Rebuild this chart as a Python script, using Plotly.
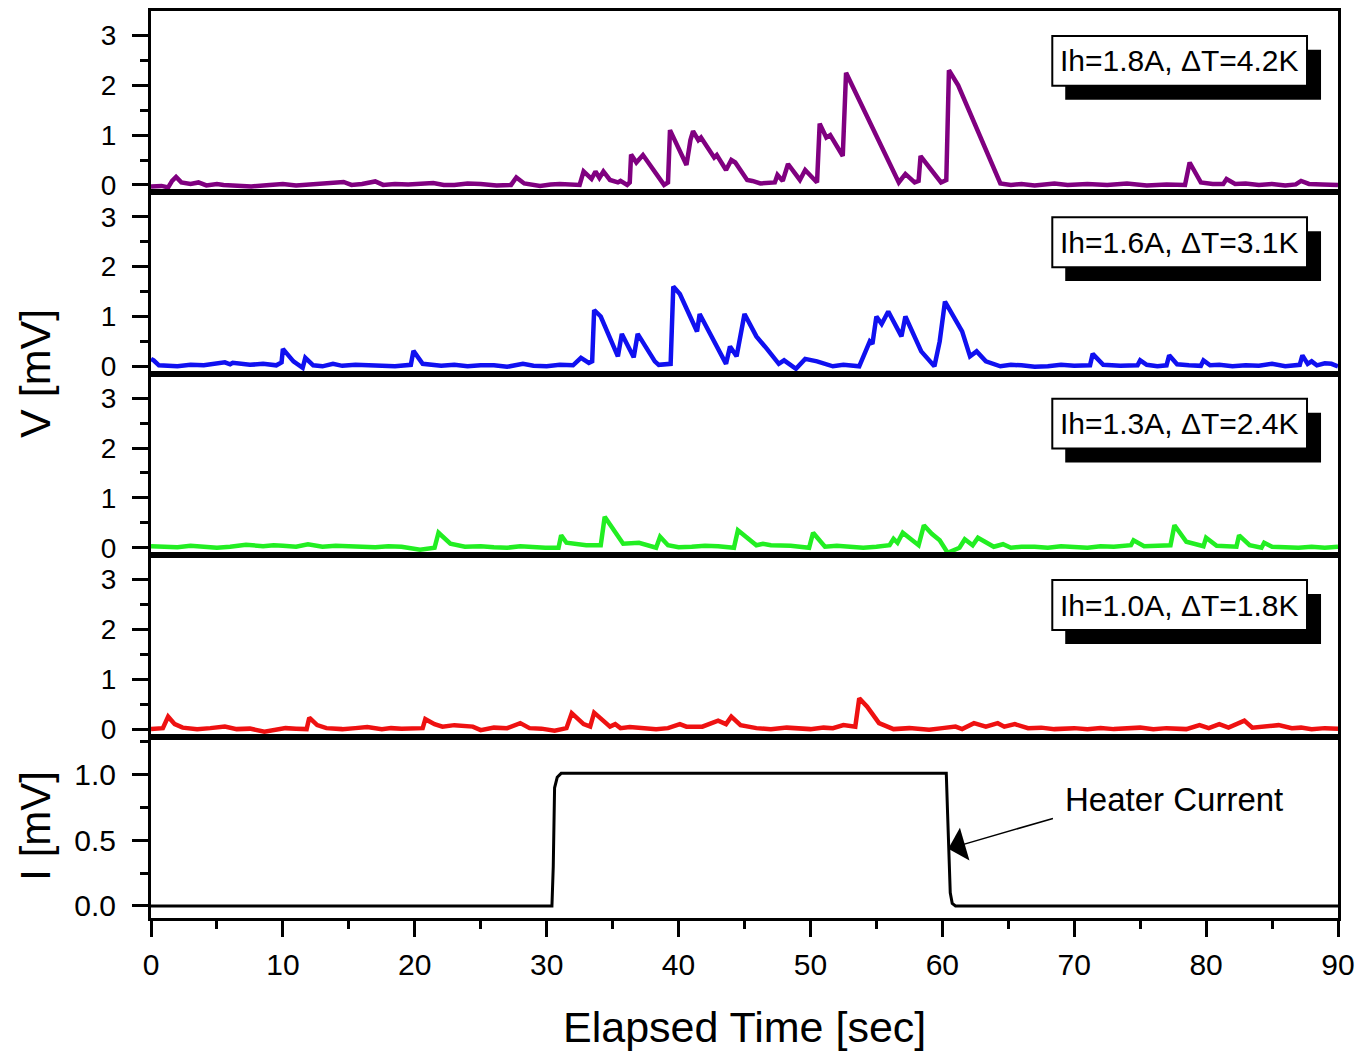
import plotly.graph_objects as go
from plotly.subplots import make_subplots

# ---------------- data ----------------
labels = ["Ih=1.8A, \u0394T=4.2K", "Ih=1.6A, \u0394T=3.1K", "Ih=1.3A, \u0394T=2.4K", "Ih=1.0A, \u0394T=1.8K"]

t_18 = [0, 0.8, 1.3, 1.6, 1.9, 2.3, 3.0, 3.6, 4.2, 5.0, 5.5, 6.5, 7.6, 9.0, 10.0, 11.0, 12.0, 13.0, 14.6, 15.2,
        16.0, 17.0, 17.6, 18.5, 19.5, 21.4, 22.2, 23.0, 24.0, 25.0, 26.2, 27.3, 27.7, 28.3, 29.0, 29.5, 30.3,
        31.0, 32.5, 32.8, 33.4, 33.7, 34.0, 34.3, 34.8,
        35.4, 35.6, 36.1, 36.3, 36.4, 36.8, 37.3, 38.9, 39.2, 39.35, 40.6, 40.9, 41.1, 41.5, 41.7, 42.7,
        42.9, 43.6, 44.0, 44.3, 45.2, 45.6, 46.2, 47.3, 47.5, 47.9, 48.3, 49.2, 49.6, 50.5, 50.7, 51.2,
        51.5, 52.45, 52.7, 56.7, 57.2, 57.9, 58.2, 58.35, 59.9, 60.3, 60.5, 61.2, 64.4, 65.2, 66.0, 67.0,
        68.5, 69.5, 71.0, 72.5, 74.0, 75.5, 77.0, 78.4, 78.75, 79.6, 80.5, 81.3, 81.55, 82.2, 83.0, 84.0,
        85.0, 86.0, 86.8, 87.2, 87.8, 88.8, 90.0]
v_18 = [-0.03, -0.02, -0.05, 0.08, 0.16, 0.05, 0.02, 0.05, -0.01, 0.02, 0.0, -0.02, -0.03, 0.0, 0.02, -0.01, 0.01, 0.01, 0.06, 0.0,
        0.02, 0.07, 0.0, 0.02, 0.01, 0.04, 0.0, 0.0, 0.03, 0.02, -0.01, 0.0, 0.15, 0.03, 0.01, -0.02, 0.01,
        0.02, 0.0, 0.27, 0.12, 0.27, 0.14, 0.27, 0.1,
        0.05, 0.08, 0.0, 0.05, 0.61, 0.45, 0.6, 0.0, 0.05, 1.1, 0.4, 0.9, 1.08, 0.9, 0.95, 0.55,
        0.6, 0.3, 0.5, 0.45, 0.1, 0.08, 0.03, 0.05, 0.2, 0.08, 0.42, 0.1, 0.3, 0.05, 1.23, 0.95,
        1.0, 0.58, 2.25, 0.05, 0.22, 0.05, 0.08, 0.58, 0.05, 0.1, 2.3, 2.0, 0.03, 0.0, 0.02, -0.01,
        0.03, 0.0, 0.02, 0.0, 0.03, -0.01, 0.01, 0.0, 0.45, 0.05, 0.02, 0.02, 0.12, 0.02, 0.03, 0.0,
        0.02, -0.01, 0.01, 0.08, 0.02, 0.01, 0.0]

t_16 = [0, 0.2, 0.6, 2.0, 3.0, 4.0, 5.6, 6.0, 6.2, 7.5, 8.5, 9.5, 9.9, 10.0, 10.8, 11.5, 11.7, 12.3, 13.0, 13.8,
        14.5, 15.5, 16.5, 17.5, 18.5, 19.7, 19.9, 20.6, 22.0, 23.0, 24.0, 25.0, 26.0, 27.0, 28.2, 29.0, 30.0, 31.0,
        32.0, 32.6, 33.2, 33.45, 33.6,
        34.1, 35.4, 35.7, 36.6, 36.9, 37.4, 38.2, 38.5, 39.4, 39.6, 40.1, 41.4, 41.6, 41.8, 43.6, 43.9,
        44.4, 45.0, 45.9, 46.7, 47.6, 48.0, 48.9, 49.6, 50.5, 51.7, 52.5, 53.7, 54.0, 54.5, 54.7, 55.0, 55.4,
        55.9, 56.9, 57.2, 58.4, 59.4, 59.8, 60.2, 61.5, 62.1, 62.6, 63.3, 64.4, 65.2, 66.0, 67.0, 68.0, 69.0,
        70.0, 71.2, 71.4, 72.2, 73.5, 74.8, 75.0, 75.5, 76.3, 77.0, 77.2, 77.8, 78.7, 79.6, 79.8, 80.3, 81.0,
        82.0, 83.0, 84.0, 85.0, 86.0, 87.1, 87.3, 87.7, 88.0, 88.4, 89.0, 89.5, 90.0]
v_16 = [0.15, 0.12, 0.02, 0.0, 0.03, 0.02, 0.08, 0.04, 0.07, 0.03, 0.05, 0.02, 0.08, 0.35, 0.1, -0.03, 0.17, 0.02, 0.0, 0.05,
        0.01, 0.03, 0.02, 0.0, 0.0, 0.03, 0.31, 0.05, 0.01, 0.03, 0.0, 0.02, 0.02, -0.01, 0.05, 0.01, 0.0, 0.03,
        0.02, 0.17, 0.07, 0.1, 1.13,
        1.0, 0.2, 0.65, 0.18, 0.65, 0.45, 0.1, 0.03, 0.05, 1.6, 1.45, 0.7, 1.05, 0.95, 0.05, 0.4,
        0.2, 1.05, 0.6, 0.35, 0.05, 0.12, -0.05, 0.15, 0.1, 0.0, 0.03, 0.0, 0.2, 0.5, 0.45, 1.0, 0.85,
        1.1, 0.6, 1.0, 0.3, 0.0, 0.5, 1.3, 0.7, 0.2, 0.3, 0.1, 0.0, 0.03, 0.02, -0.01, 0.0, 0.03,
        0.01, 0.02, 0.25, 0.03, 0.01, 0.02, 0.12, 0.03, 0.0, 0.02, 0.22, 0.04, 0.02, 0.01, 0.12, 0.02, 0.03,
        0.0, 0.02, 0.01, 0.05, 0.0, 0.03, 0.22, 0.05, 0.1, 0.02, 0.06, 0.05, 0.0]

t_13 = [0, 1, 2, 3, 4, 5, 6, 7.2, 8.5, 9.3, 10, 11.0, 11.9, 13, 14, 15, 16, 17, 18, 19, 20.4, 21.5, 21.8, 22.7, 23.8,
        25, 26, 27, 28, 29, 29.9,
        30.9, 31.1, 31.5, 33.0, 34.1, 34.4, 35.8, 37.0, 38.3, 38.6, 39.2, 40, 41, 42, 43, 44.2, 44.5, 45.9,
        46.4, 47.0, 48.5, 49.9, 50.2, 51.1, 52, 53, 54, 55, 56.0, 56.3, 56.6, 57.0, 58.2, 58.6, 59.2, 59.8,
        60.4, 61.3, 61.7, 62.3, 62.7, 63.9, 64.6, 65.2, 66, 67, 68, 69, 70, 71, 72, 73, 74.3, 74.5, 75.3, 76.2, 77.3,
        77.6, 78.5, 79.8, 80.0, 80.8, 81.5, 82.3, 82.5, 83.3, 84.2, 84.4, 85.0, 86, 87, 88, 89, 90]
v_13 = [0.03, 0.01, 0.01, 0.04, 0.03, 0.0, 0.02, 0.06, 0.03, 0.05, 0.04, 0.02, 0.07, 0.02, 0.04, 0.03, 0.0, 0.01, 0.03, 0.02,
        -0.04, 0.0, 0.3, 0.08, 0.02, 0.03, 0.01, 0.0, 0.03, 0.01, 0.0,
        0.0, 0.25, 0.1, 0.05, 0.05, 0.62, 0.08, 0.1, 0.0, 0.22, 0.05, 0.01, 0.02, 0.04, 0.03, 0.0, 0.35, 0.05,
        0.08, 0.05, 0.04, 0.0, 0.3, 0.02, 0.04, 0.03, 0.0, 0.02, 0.05, 0.18, 0.1, 0.3, 0.05, 0.45, 0.28, 0.15,
        -0.1, 0.0, 0.17, 0.05, 0.2, 0.02, 0.07, 0.0, 0.02, 0.02, 0.0, 0.03, 0.01, 0.0, 0.03, 0.02, 0.05, 0.15, 0.03, 0.04, 0.05,
        0.45, 0.12, 0.03, 0.2, 0.04, 0.03, 0.02, 0.25, 0.05, 0.0, 0.1, 0.02, 0.01, 0.0, 0.02, 0.0, 0.02]

t_10 = [0, 0.9, 1.3, 1.8, 2.4, 3.5, 4.5, 5.6, 6.5, 7.5, 8.6, 9.5, 10.2, 11.0, 11.8, 12.0, 12.6, 13.3, 14.5, 15.5,
        16.4, 17.5, 18.2, 19.0, 20.6, 20.8, 21.5, 22.1, 23.0, 24.4, 25.0, 26.0, 27.0, 28.0, 28.7, 29.6, 30.6, 31.5, 31.9,
        32.8, 33.3, 33.6, 34.8, 35.2, 35.6, 36.3, 37.0, 38.3, 39.2, 40.1, 40.6, 41.8, 43.0, 43.6, 44.0, 44.7, 45.9,
        47.0, 48.2, 49.0, 50.0, 51.0, 51.7, 52.5, 53.4, 53.7, 54.3, 55.2, 56.3, 57.5, 58.2, 59.0, 60.0, 61.0, 61.5, 62.4, 63.3, 64.2,
        64.7, 65.5, 66.5, 67.5, 68.5, 70, 71, 72, 73, 74, 75, 76, 77, 78.5, 79.5, 80.2, 81.0, 81.7, 82.9, 83.5, 84.5, 85.5, 86.5,
        87.2, 88, 89, 90]
v_10 = [0.0, 0.02, 0.25, 0.1, 0.03, 0.0, 0.02, 0.05, 0.0, 0.01, -0.05, 0.0, 0.02, 0.01, 0.0, 0.23, 0.08, 0.02, 0.0, 0.02,
        0.04, 0.0, 0.02, 0.01, 0.02, 0.2, 0.1, 0.05, 0.08, 0.05, -0.02, 0.03, 0.02, 0.12, 0.02, 0.01, -0.03, 0.02, 0.32,
        0.1, 0.05, 0.33, 0.05, 0.1, 0.02, 0.04, 0.03, 0.0, 0.02, 0.1, 0.05, 0.05, 0.17, 0.1, 0.25, 0.08, 0.02,
        0.0, 0.03, 0.01, 0.0, 0.03, 0.02, 0.08, 0.05, 0.62, 0.45, 0.12, 0.0, 0.02, 0.0, -0.01, 0.02, 0.05, 0.0, 0.12, 0.05, 0.12,
        0.05, 0.1, 0.02, 0.03, 0.0, 0.02, 0.0, 0.02, 0.0, 0.02, 0.03, 0.0, 0.02, 0.0, 0.08, 0.02, 0.1, 0.03, 0.17, 0.03, 0.05, 0.08, 0.02,
        0.03, 0.0, 0.02, 0.01]

t_heater = [0, 10, 20, 30.4, 30.5, 30.6, 30.8, 31.1, 40, 50, 60.3, 60.4, 60.5, 60.6, 60.75, 61.0, 70, 80, 90]
i_heater = [0, 0, 0, 0, 0.3, 0.9, 0.98, 1.01, 1.01, 1.01, 1.01, 0.7, 0.35, 0.1, 0.02, 0.0, 0, 0, 0]

series = [(t_18, v_18, "#800080"), (t_16, v_16, "#1010F0"), (t_13, v_13, "#22EE22"), (t_10, v_10, "#EE1111")]

# ---------------- figure ----------------
FONT = "Arial, Liberation Sans, Arimo, sans-serif"
fig = make_subplots(rows=5, cols=1, shared_xaxes=True, vertical_spacing=0)

for i, (t, v, c) in enumerate(series):
    assert len(t) == len(v), (i, len(t), len(v))
    fig.add_trace(go.Scatter(x=t, y=v, mode="lines", line=dict(color=c, width=4.5),
                             showlegend=False), row=i + 1, col=1)
assert len(t_heater) == len(i_heater)
fig.add_trace(go.Scatter(x=t_heater, y=i_heater, mode="lines", line=dict(color="black", width=3),
                         showlegend=False), row=5, col=1)

axis_common = dict(showline=True, linewidth=3, linecolor="black", mirror=True, showgrid=False,
                   zeroline=False)
for r in range(1, 6):
    fig.update_xaxes(range=[0, 90], row=r, col=1, **axis_common)
    if r < 5:
        fig.update_xaxes(ticks="", showticklabels=False, row=r, col=1)
        fig.update_yaxes(range=[-0.15, 3.49], tickmode="linear", tick0=0, dtick=1,
                         ticks="outside", ticklen=16, tickwidth=3, tickcolor="black",
                         minor=dict(ticks="outside", ticklen=8, tickwidth=3, tickcolor="black",
                                    dtick=0.5, tick0=0),
                         tickfont=dict(family=FONT, size=28, color="black"),
                         ticklabelstandoff=10, row=r, col=1, **axis_common)
fig.update_xaxes(ticks="outside", ticklen=16, tickwidth=3, tickcolor="black", tickmode="linear",
                 tick0=0, dtick=10, showticklabels=True,
                 minor=dict(ticks="outside", ticklen=8, tickwidth=3, tickcolor="black", dtick=5, tick0=0),
                 tickfont=dict(family=FONT, size=30, color="black"), ticklabelstandoff=2,
                 row=5, col=1)
fig.update_yaxes(range=[-0.092, 1.29], tickmode="linear", tick0=0, dtick=0.5, tickformat=".1f",
                 ticks="outside", ticklen=16, tickwidth=3, tickcolor="black",
                 minor=dict(ticks="outside", ticklen=8, tickwidth=3, tickcolor="black", dtick=0.25, tick0=0),
                 tickfont=dict(family=FONT, size=30, color="black"), ticklabelstandoff=10,
                 row=5, col=1, **axis_common)

shapes = []
annotations = []
for i, lab in enumerate(labels):
    xr = "x domain" if i == 0 else f"x{i+1} domain"
    yr = "y domain" if i == 0 else f"y{i+1} domain"
    shapes.append(dict(type="rect", xref=xr, yref=yr, x0=0.7702, x1=0.9857, y0=0.511, y1=0.7857,
                       fillcolor="black", line=dict(width=0), layer="above"))
    shapes.append(dict(type="rect", xref=xr, yref=yr, x0=0.7593, x1=0.9739, y0=0.5879, y1=0.8626,
                       fillcolor="white", line=dict(color="black", width=2), layer="above"))
    annotations.append(dict(xref=xr, yref=yr, x=0.8666, y=0.7253, text=lab, showarrow=False,
                            xanchor="center", yanchor="middle",
                            font=dict(family=FONT, size=30, color="black")))

annotations += [
    dict(xref="x5", yref="y5", x=77.6, y=0.81, text="Heater Current", showarrow=False,
         xanchor="center", yanchor="middle", font=dict(family=FONT, size=33, color="black")),
    dict(xref="x5", yref="y5", x=60.45, y=0.435, ax=68.5, ay=0.67, axref="x5", ayref="y5",
         text="", showarrow=True, arrowhead=1, arrowsize=3.8, arrowwidth=1.5, arrowcolor="black"),
    dict(xref="paper", yref="paper", x=-0.0976, y=0.6, text="V [mV]", textangle=-90, showarrow=False,
         xanchor="center", yanchor="middle", font=dict(family=FONT, size=43, color="black")),
    dict(xref="paper", yref="paper", x=-0.0976, y=0.102, text="I [mV]", textangle=-90, showarrow=False,
         xanchor="center", yanchor="middle", font=dict(family=FONT, size=42, color="black")),
    dict(xref="paper", yref="paper", x=0.5, y=-0.12, text="Elapsed Time [sec]", showarrow=False,
         xanchor="center", yanchor="middle", font=dict(family=FONT, size=43, color="black")),
]

fig.update_layout(width=1363, height=1051, margin=dict(l=151, r=24, t=8, b=133),
                  paper_bgcolor="white", plot_bgcolor="white", showlegend=False,
                  shapes=shapes, annotations=annotations)

fig.write_html("out.html")
